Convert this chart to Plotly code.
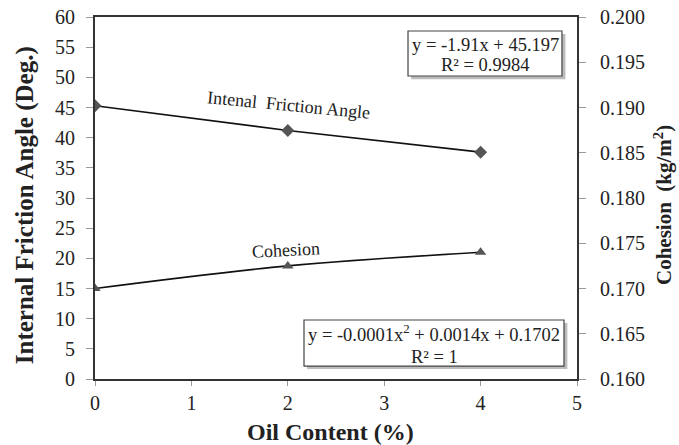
import plotly.graph_objects as go

oil_content = [0, 2, 4]
friction_angle = [45.3, 41.2, 37.6]
cohesion = [0.1700, 0.1725, 0.1740]

left_ticks = list(range(0, 61, 5))
right_ticks = [0.160, 0.165, 0.170, 0.175, 0.180, 0.185, 0.190, 0.195, 0.200]
x_ticks = [0, 1, 2, 3, 4, 5]

FONT = "Liberation Serif"
AX = "#333333"
TXT = "#222222"

fig = go.Figure()
fig.add_trace(go.Scatter(
    x=oil_content, y=friction_angle, mode="lines+markers",
    line=dict(color="#111111", width=1.6),
    marker=dict(symbol="diamond", size=10, color="#555555"),
    showlegend=False, yaxis="y"))
fig.add_trace(go.Scatter(
    x=oil_content, y=cohesion, mode="lines+markers",
    line=dict(color="#111111", width=1.6, shape="spline"),
    marker=dict(symbol="triangle-up", size=10, color="#555555"),
    showlegend=False, yaxis="y2"))

W, H = 679, 445
L, R, T, B = 95, 102, 17, 66

fig.update_layout(
    width=W, height=H,
    margin=dict(l=L, r=R, t=T, b=B, autoexpand=False),
    paper_bgcolor="white", plot_bgcolor="white",
    font=dict(family=FONT, size=20, color=TXT),
    xaxis=dict(range=[0, 5], tickvals=x_ticks, ticks="outside", ticklen=5,
               tickcolor="#999999", showline=True, linecolor=AX, linewidth=2,
               mirror=True, showgrid=False, zeroline=False, automargin=False,
               ticklabelstandoff=0, ticklabeloverflow="allow"),
    yaxis=dict(range=[0, 60], tickvals=left_ticks, ticks="outside", ticklen=7,
               tickcolor="#999999", showline=True, linecolor=AX, linewidth=2,
               showgrid=False, zeroline=False, automargin=False,
               ticklabelstandoff=7, ticklabeloverflow="allow"),
    yaxis2=dict(range=[0.160, 0.200], tickvals=right_ticks, tickformat=".3f",
                overlaying="y", side="right", ticks="outside", ticklen=7,
                tickcolor="#999999", showline=True, linecolor=AX, linewidth=2,
                showgrid=False, zeroline=False, automargin=False,
                ticklabelstandoff=10, ticklabeloverflow="allow"),
)

# axis titles
fig.add_annotation(x=-0.1452, y=0.48, xref="paper", yref="paper", xanchor="center", yanchor="middle",
                   text="<b>Internal Friction Angle (Deg.)</b>", textangle=-90, showarrow=False,
                   font=dict(size=25, family=FONT, color=TXT))
fig.add_annotation(x=1.178, y=0.48, xref="paper", yref="paper", xanchor="center", yanchor="middle",
                   text="<b>Cohesion  (kg/m<sup>2</sup>)</b>", textangle=-90, showarrow=False,
                   font=dict(size=21, family=FONT, color=TXT))
fig.add_annotation(x=0.4896, y=-0.1464, xref="paper", yref="paper", xanchor="center", yanchor="middle",
                   text="<b>Oil Content (%)</b>", showarrow=False,
                   font=dict(size=24, family=FONT, color=TXT))

# series labels
fig.add_annotation(x=2.01, y=45.4, xref="x", yref="y", text="Intenal  Friction Angle",
                   xanchor="center", yanchor="middle",
                   showarrow=False, textangle=5.5, font=dict(size=18, family=FONT, color=TXT))
fig.add_annotation(x=1.98, y=0.1742, xref="x", yref="y2", text="Cohesion",
                   xanchor="center", yanchor="middle",
                   showarrow=False, textangle=-3, font=dict(size=18, family=FONT, color=TXT))

# equation box 1 (friction angle trendline)
fig.add_shape(type="rect", xref="x", yref="y", x0=3.28, x1=4.88, y0=49.7, y1=57.2,
              fillcolor="#a0a0a0", line=dict(width=0), opacity=0.7)
fig.add_shape(type="rect", xref="x", yref="y", x0=3.247, x1=4.844, y0=50.22, y1=57.68,
              fillcolor="white", line=dict(color="#444444", width=1.2))
fig.add_annotation(x=4.046, y=55.4, xref="x", yref="y", showarrow=False,
                   xanchor="center", yanchor="middle",
                   text="y = -1.91x + 45.197", font=dict(size=18.5, family=FONT, color=TXT))
fig.add_annotation(x=4.046, y=52.1, xref="x", yref="y", showarrow=False,
                   xanchor="center", yanchor="middle",
                   text="R² = 0.9984", font=dict(size=18.5, family=FONT, color=TXT))

# equation box 2 (cohesion trendline)
fig.add_shape(type="rect", xref="x", yref="y", x0=2.2, x1=4.9, y0=1.65, y1=9.3,
              fillcolor="#a0a0a0", line=dict(width=0), opacity=0.7)
fig.add_shape(type="rect", xref="x", yref="y", x0=2.168, x1=4.865, y0=2.15, y1=9.78,
              fillcolor="white", line=dict(color="#444444", width=1.2))
fig.add_annotation(x=3.517, y=7.6, xref="x", yref="y", showarrow=False,
                   xanchor="center", yanchor="middle",
                   text="y = -0.0001x<sup>2</sup> + 0.0014x + 0.1702",
                   font=dict(size=18.5, family=FONT, color=TXT))
fig.add_annotation(x=3.517, y=3.7, xref="x", yref="y", showarrow=False,
                   xanchor="center", yanchor="middle",
                   text="R² = 1", font=dict(size=18.5, family=FONT, color=TXT))

fig.write_html("out.html", config={"displayModeBar": False},
               post_script="document.body.style.margin='0';document.body.style.overflow='hidden';")
